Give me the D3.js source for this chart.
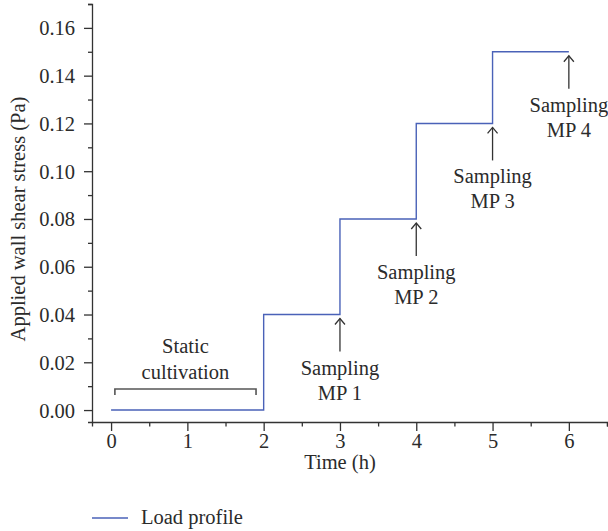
<!DOCTYPE html>
<html>
<head>
<meta charset="utf-8">
<script src="https://cdn.jsdelivr.net/npm/d3@7"></script>
<style>
  body { margin: 0; background: #fff; }
  svg text { font-family: "Liberation Serif", "DejaVu Serif", serif; fill: #2b2b2b; }
</style>
</head>
<body>
<svg id="chart"></svg>
<script>
// Load profile: applied wall shear stress steps over time
const stepTimes = [0, 2, 2, 3, 3, 4, 4, 5, 5, 6];
const stepStress = [0, 0, 0.04, 0.04, 0.08, 0.08, 0.12, 0.12, 0.15, 0.15];

const xTicks = [0, 1, 2, 3, 4, 5, 6];
const yTicks = [0, 0.02, 0.04, 0.06, 0.08, 0.10, 0.12, 0.14, 0.16];

// Sampling annotations (arrow at time, below level)
const sampleTimes = [3, 4, 5, 6];
const sampleLevels = [0.04, 0.08, 0.12, 0.15];
const sampleLabels = ['MP 1', 'MP 2', 'MP 3', 'MP 4'];

// Static cultivation bracket
const bracketStart = 0.05;
const bracketEnd = 1.9;
const bracketLevel = 0.0088;

const width = 608;
const height = 531;
const fontSize = '20.5px';

const svg = d3.select('#chart')
  .attr('width', width)
  .attr('height', height);

const x = d3.scaleLinear().domain([-0.25, 6.5]).range([92, 607]);
const y = d3.scaleLinear().domain([-0.005, 0.17]).range([422, 4]);

const axisColor = '#333';
const lineColor = '#4a62b8';

// Axes
const xAxis = svg.append('g')
  .attr('transform', `translate(0,${y(-0.005)})`)
  .call(d3.axisBottom(x).tickValues(d3.range(0, 6.51, 0.5)).tickSize(4.5).tickFormat(''));
xAxis.selectAll('.tick line')
  .filter(d => xTicks.includes(d))
  .attr('y2', 9);
xAxis.selectAll('.tick')
  .filter(d => xTicks.includes(d))
  .append('text')
  .attr('y', 26)
  .attr('text-anchor', 'middle')
  .style('font-size', fontSize)
  .text(d => d);

const yAxis = svg.append('g')
  .attr('transform', `translate(${x(-0.25)},0)`)
  .call(d3.axisLeft(y).tickValues(d3.range(0, 0.1701, 0.01)).tickSize(4).tickFormat(''));
yAxis.selectAll('.tick line')
  .filter(d => yTicks.some(t => Math.abs(t - d) < 1e-9))
  .attr('x2', -8);
yAxis.selectAll('.tick')
  .filter(d => yTicks.some(t => Math.abs(t - d) < 1e-9))
  .append('text')
  .attr('x', -17)
  .attr('dy', '0.34em')
  .attr('text-anchor', 'end')
  .style('font-size', fontSize)
  .text(d => d.toFixed(2));

svg.selectAll('.domain, .tick line')
  .attr('stroke', axisColor)
  .attr('stroke-width', 1.3);

// Axis titles
svg.append('text')
  .attr('x', x(3))
  .attr('y', 469)
  .attr('text-anchor', 'middle')
  .style('font-size', fontSize)
  .text('Time (h)');

svg.append('text')
  .attr('transform', `translate(25,${y(0.08)}) rotate(-90)`)
  .attr('text-anchor', 'middle')
  .style('font-size', fontSize)
  .text('Applied wall shear stress (Pa)');

// Step line
const line = d3.line()
  .x((d, i) => x(stepTimes[i]))
  .y(d => y(d));

svg.append('path')
  .attr('d', line(stepStress))
  .attr('fill', 'none')
  .attr('stroke', lineColor)
  .attr('stroke-width', 1.4);

// Static cultivation bracket
svg.append('path')
  .attr('d', `M${x(bracketStart)},${y(bracketLevel) + 6}V${y(bracketLevel)}H${x(bracketEnd)}V${y(bracketLevel) + 6}`)
  .attr('fill', 'none')
  .attr('stroke', '#555')
  .attr('stroke-width', 1.6);

svg.append('text')
  .attr('x', x((bracketStart + bracketEnd) / 2))
  .attr('y', y(bracketLevel) - 36)
  .attr('text-anchor', 'middle')
  .style('font-size', fontSize)
  .text('Static');

svg.append('text')
  .attr('x', x((bracketStart + bracketEnd) / 2))
  .attr('y', y(bracketLevel) - 10)
  .attr('text-anchor', 'middle')
  .style('font-size', fontSize)
  .text('cultivation');

// Sampling arrows and labels
const samples = svg.selectAll('.sample')
  .data(sampleTimes)
  .enter()
  .append('g')
  .attr('class', 'sample')
  .attr('transform', (d, i) => `translate(${x(d)},${y(sampleLevels[i])})`);

samples.append('line')
  .attr('x1', 0).attr('x2', 0)
  .attr('y1', 4).attr('y2', 37)
  .attr('stroke', axisColor)
  .attr('stroke-width', 1.3);

samples.append('path')
  .attr('d', 'M-5,10L0,4L5,10')
  .attr('fill', 'none')
  .attr('stroke', axisColor)
  .attr('stroke-width', 1.3);

samples.append('text')
  .attr('y', 60)
  .attr('text-anchor', 'middle')
  .style('font-size', fontSize)
  .text('Sampling');

samples.append('text')
  .attr('y', 85)
  .attr('text-anchor', 'middle')
  .style('font-size', fontSize)
  .text((d, i) => sampleLabels[i]);

// Legend
svg.append('line')
  .attr('x1', 92).attr('x2', 128)
  .attr('y1', 518).attr('y2', 518)
  .attr('stroke', lineColor)
  .attr('stroke-width', 1.4);

svg.append('text')
  .attr('x', 141)
  .attr('y', 524)
  .style('font-size', fontSize)
  .text('Load profile');
</script>
</body>
</html>
